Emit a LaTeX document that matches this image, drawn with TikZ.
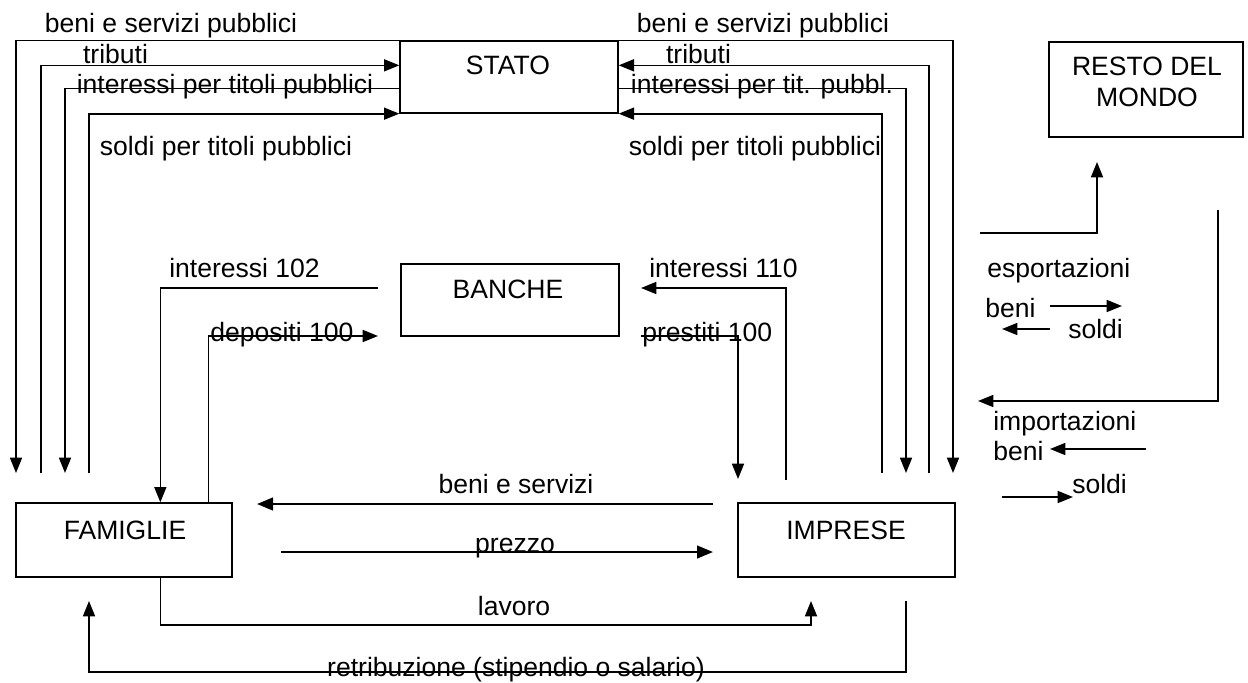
\documentclass[tikz,border=0pt]{standalone}
\usepackage{fontspec}
\setmainfont{Liberation Sans}
\usetikzlibrary{arrows.meta,fit,calc}
\begin{document}
\begin{tikzpicture}[x=0.75pt,y=-0.75pt,
  font=\fontsize{19.9pt}{23.25pt}\selectfont,
  box/.style={draw, line width=1pt, inner sep=0pt},
  lbl/.style={inner sep=0pt, anchor=base},
  lblw/.style={inner sep=0pt, anchor=base west},
  conn/.style={line width=1.25pt},
  arr/.style={conn, -{Triangle[length=11.5pt,width=9pt]}},
  bigarr/.style={line width=1.7pt, -{Triangle[length=12pt,width=9.5pt]}}
]
\path[use as bounding box, fill=white] (0,0) rectangle (1248,682);

% boxes
\node[box, fit={(400,41) (618,113)}] (stato) {};
\node[box, fit={(1049,42) (1243,137)}] (resto) {};
\node[box, fit={(401,264) (619,336)}] (banche) {};
\node[box, fit={(16,503) (232,577)}] (famiglie) {};
\node[box, fit={(738,503) (955,577)}] (imprese) {};

\node[lbl] (tstato) at (508,74) {STATO};
\node[lbl] (tresto1) at (1147,75) {RESTO DEL};
\node[lbl] (tresto2) at (1147,106) {MONDO};
\node[lbl] (tbanche) at (508,298) {BANCHE};
\node[lbl] (tfam) at (125,539) {FAMIGLIE};
\node[lbl] (timp) at (846,539) {IMPRESE};

% free ends
\coordinate (L1) at (16,473);
\coordinate (L2) at (41,473);
\coordinate (L3) at (65,473);
\coordinate (L4) at (89,473);
\coordinate (R1) at (953,473);
\coordinate (R2) at (929,473);
\coordinate (R3) at (906,473);
\coordinate (R4) at (882,473);

% left flows with STATO
\draw[arr] (stato.north west) -| (L1);
\draw[arr] (L2) |- ([shift={(0,25)}]stato.north west);
\draw[arr] ([shift={(0,48)}]stato.north west) -| (L3);
\draw[arr] (L4) |- (stato.south west);
% right flows with STATO
\draw[arr] (stato.north east) -| (R1);
\draw[arr] (R2) |- ([shift={(0,25)}]stato.north east);
\draw[arr] ([shift={(0,48)}]stato.north east) -| (R3);
\draw[arr] (R4) |- (stato.south east);

\node[lbl] (l1) at (171,32) {beni e servizi pubblici};
\node[lbl] (l2) at (115.5,63) {tributi};
\node[lbl] (l3) at (225,93) {interessi per titoli pubblici};
\node[lbl] (l4) at (226,155) {soldi per titoli pubblici};
\node[lbl] (r1) at (763,32) {beni e servizi pubblici};
\node[lbl] (r2) at (698.5,63) {tributi};
\node[lbl] (r3) at (762,93) {interessi per tit. pubbl.};
\node[lbl] (r4) at (755,155) {soldi per titoli pubblici};

% banks
\coordinate (i102) at (378,288);
\coordinate (dep) at (378,336);
\coordinate (i110s) at (786,480);
\coordinate (i110t) at (641,288);
\coordinate (pre) at (641,336);
\coordinate (pret) at (738,479);
\draw[arr] (i102) -| ([shift={(145,0)}]famiglie.north west);
\draw[arr] ([shift={(193,0)}]famiglie.north west) |- (dep);
\draw[arr] (i110s) |- (i110t);
\draw[arr] (pre) -| (pret);
\node[lblw] (ti102) at (169,277) {interessi 102};
\node[lblw] (tdep) at (210,341) {depositi 100};
\node[lblw] (ti110) at (649,277) {interessi 110};
\node[lblw] (tpre) at (642,341) {prestiti 100};

% families - firms
\coordinate (bes) at (713,504);
\coordinate (bet) at (257,504);
\coordinate (prs) at (281,552);
\coordinate (prt) at (713,552);
\draw[bigarr] (bes) -- (bet);
\draw[bigarr] (prs) -- (prt);
\node[lbl] (tbes) at (516,493) {beni e servizi};
\node[lbl] (tprz) at (515,552) {prezzo};

\coordinate (lavt) at (811,601);
\coordinate (rets) at (906,601);
\coordinate (rett) at (89,601);
\draw[arr] ([shift={(145,0)}]famiglie.south west) -- ++(0,47) -| (lavt);
\draw[arr] (rets) -- ++(0,71) -| (rett);
\node[lbl] (tlav) at (514,615) {lavoro};
\node[lbl] (tret) at (516,676) {retribuzione (stipendio o salario)};

% rest of world
\coordinate (exs) at (980,233);
\coordinate (ext) at (1097,162);
\coordinate (ims) at (1218,210);
\coordinate (imt) at (978,401);
\draw[arr] (exs) -| (ext);
\draw[arr] (ims) |- (imt);

\node[lblw] (tesp) at (987,277) {esportazioni};
\node[lblw] (tebeni) at (985,317) {beni};
\node[lblw] (tesoldi) at (1068,338) {soldi};
\node[lblw] (timp2) at (993,430) {importazioni};
\node[lblw] (tibeni) at (993,460) {beni};
\node[lblw] (tisoldi) at (1072,493) {soldi};

\coordinate (a1s) at (1050,306);
\coordinate (a1t) at (1122,306);
\coordinate (a2s) at (1050,329);
\coordinate (a2t) at (1002,329);
\coordinate (a3s) at (1146,449);
\coordinate (a3t) at (1050,449);
\coordinate (a4s) at (1002,497);
\coordinate (a4t) at (1073,497);
\draw[arr] (a1s) -- (a1t);
\draw[arr] (a2s) -- (a2t);
\draw[arr] (a3s) -- (a3t);
\draw[arr] (a4s) -- (a4t);
\end{tikzpicture}
\end{document}
